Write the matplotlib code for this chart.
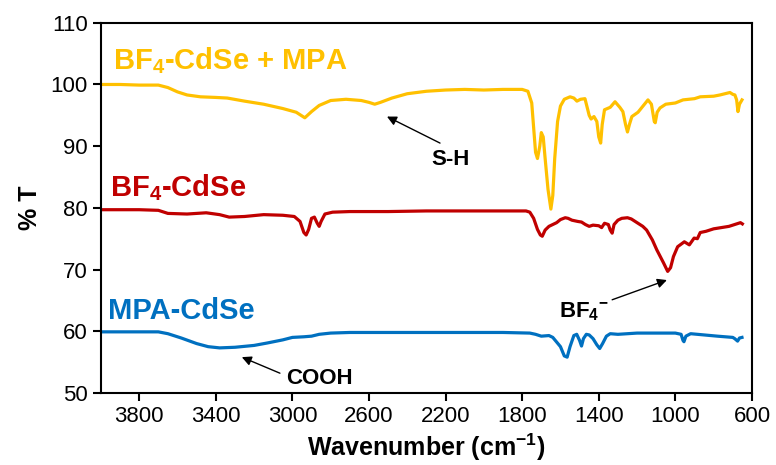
import matplotlib.pyplot as plt

plt.rcParams['font.family'] = ['Liberation Sans', 'DejaVu Sans']
plt.rcParams['mathtext.fontset'] = 'custom'
plt.rcParams['mathtext.rm'] = 'Liberation Sans'
plt.rcParams['mathtext.bf'] = 'Liberation Sans:bold'
plt.rcParams['mathtext.default'] = 'bf'

# BF4-CdSe + MPA (yellow)
wn_mix = [4000, 3900, 3800, 3700, 3650, 3600, 3550, 3480, 3400, 3340, 3250, 3150,
          3050, 2980, 2935, 2900, 2860, 2800, 2720, 2640, 2600, 2570, 2540, 2480,
          2400, 2300, 2200, 2100, 2000, 1900, 1800, 1770, 1750, 1740, 1730, 1720,
          1708, 1700, 1690, 1680, 1665, 1650, 1640, 1630, 1615, 1600, 1580, 1550,
          1530, 1514, 1495, 1472, 1450, 1440, 1425, 1410, 1400, 1390, 1382, 1370,
          1340, 1315, 1290, 1274, 1260, 1250, 1240, 1227, 1195, 1169, 1143, 1125,
          1110, 1105, 1095, 1080, 1050, 1000, 960, 900, 870, 800, 767, 715, 700,
          689, 680, 673, 665, 652]
t_mix = [100.0, 100.0, 99.9, 99.9, 99.5, 98.8, 98.3, 98.0, 97.9, 97.8, 97.3, 96.8,
         96.1, 95.5, 94.6, 95.6, 96.6, 97.4, 97.6, 97.4, 97.1, 96.8, 97.1, 97.8,
         98.5, 98.9, 99.1, 99.2, 99.1, 99.2, 99.2, 98.9, 97.0, 93.0, 89.0, 88.0,
         90.0, 92.2, 91.5, 88.0, 83.0, 79.8, 82.0, 88.0, 94.0, 96.5, 97.6, 98.0,
         97.8, 97.3, 97.6, 97.7, 95.0, 94.4, 94.8, 94.0, 91.5, 90.5, 93.5, 95.9,
         96.3, 97.2, 96.3, 95.6, 93.5, 92.3, 93.5, 94.8, 95.5, 96.5, 97.5, 96.8,
         94.0, 93.8, 95.5, 96.2, 96.8, 97.0, 97.5, 97.7, 98.0, 98.1, 98.3, 98.7, 98.4,
         98.3, 97.5, 95.6, 96.8, 97.5]

# BF4-CdSe (red)
wn_bf4 = [4000, 3800, 3700, 3650, 3550, 3450, 3380, 3330, 3250, 3150, 3050, 2990,
          2960, 2940, 2928, 2915, 2900, 2885, 2870, 2860, 2850, 2830, 2790, 2700,
          2500, 2300, 2100, 1900, 1780, 1760, 1740, 1720, 1705, 1695, 1680, 1660,
          1640, 1620, 1600, 1575, 1560, 1540, 1510, 1490, 1470, 1450, 1430, 1400,
          1385, 1370, 1350, 1340, 1330, 1320, 1300, 1280, 1250, 1230, 1200, 1170,
          1150, 1120, 1097, 1062, 1040, 1025, 1010, 988, 953, 927, 902, 885, 870,
          840, 800, 720, 660, 650]
t_bf4 = [79.7, 79.7, 79.6, 79.1, 79.0, 79.2, 78.9, 78.5, 78.6, 78.9, 78.8, 78.6,
         77.8, 76.0, 75.6, 76.5, 78.3, 78.5, 77.5, 77.0, 77.8, 79.0, 79.3, 79.4,
         79.4, 79.5, 79.5, 79.5, 79.5, 79.3, 78.3, 76.5, 75.6, 75.4, 76.4, 77.0,
         77.3, 77.6, 78.1, 78.4, 78.3, 78.0, 77.8, 77.7, 77.3, 77.0, 77.2, 77.1,
         76.8, 77.5, 77.3, 76.4, 75.9, 77.3, 78.0, 78.3, 78.4, 78.2, 77.6, 77.0,
         76.4, 74.8, 73.2, 71.1, 69.7, 70.3, 72.1, 73.7, 74.5, 74.0, 75.1, 75.0, 76.0,
         76.2, 76.6, 77.0, 77.6, 77.4]

# MPA-CdSe (blue)
wn_mpa = [4000, 3800, 3700, 3650, 3580, 3500, 3440, 3380, 3300, 3200, 3130, 3050,
          3000, 2940, 2900, 2860, 2800, 2700, 2500, 2300, 2100, 1900, 1760, 1730,
          1700, 1660, 1640, 1600, 1580, 1565, 1550, 1530, 1515, 1500, 1490, 1480,
          1465, 1450, 1430, 1410, 1395, 1380, 1360, 1340, 1300, 1200, 1100, 1000,
          970, 960, 955, 945, 920, 850, 780, 700, 690, 675, 665, 652]
t_mpa = [59.9, 59.9, 59.9, 59.6, 58.9, 58.0, 57.5, 57.3, 57.4, 57.7, 58.1, 58.6,
         59.0, 59.1, 59.2, 59.5, 59.7, 59.8, 59.8, 59.8, 59.8, 59.8, 59.7, 59.5,
         59.2, 59.3, 59.0, 57.5, 56.0, 55.8, 57.5, 59.3, 59.5, 58.5, 57.6, 58.8,
         59.5, 59.4, 58.8, 57.8, 57.2, 58.0, 59.2, 59.6, 59.5, 59.7, 59.7, 59.7,
         59.5, 58.5, 58.3, 59.2, 59.6, 59.4, 59.2, 59.0, 58.8, 58.4, 58.9, 59.0]

yellow = '#FFC000'
red = '#C00000'
blue = '#0070C0'

fig = plt.figure(figsize=(7.76, 4.65), dpi=100)
ax = fig.add_axes([0.130, 0.155, 0.839, 0.796])

ax.plot(wn_mix, t_mix, color=yellow, lw=2.3)
ax.plot(wn_bf4, t_bf4, color=red, lw=2.3)
ax.plot(wn_mpa, t_mpa, color=blue, lw=2.3)

ax.set_xlim(4000, 600)
ax.set_ylim(50, 110)
ax.set_xticks([3800, 3400, 3000, 2600, 2200, 1800, 1400, 1000, 600])
ax.set_yticks([50, 60, 70, 80, 90, 100, 110])
ax.tick_params(labelsize=16, width=1.5, length=6, direction='out')
for s in ax.spines.values():
    s.set_linewidth(1.5)

ax.set_xlabel('Wavenumber (cm$^{-1}$)', fontsize=18, fontweight='bold', labelpad=3)
ax.set_ylabel('% T', fontsize=18, fontweight='bold', labelpad=6)

ax.text(3937, 103.8, 'BF$_4$-CdSe + MPA', color=yellow, fontsize=21,
        fontweight='bold', va='center', ha='left')
ax.text(3953, 83.3, 'BF$_4$-CdSe', color=red, fontsize=21,
        fontweight='bold', va='center', ha='left')
ax.text(3963, 63.3, 'MPA-CdSe', color=blue, fontsize=21,
        fontweight='bold', va='center', ha='left')

arrow = dict(arrowstyle='-|>', color='black', lw=1.0, mutation_scale=14, shrinkA=0, shrinkB=0)
ax.annotate('', xy=(2506, 94.8), xytext=(2229, 90.5), arrowprops=arrow)
ax.text(2172, 87.9, 'S-H', fontsize=16, fontweight='bold', ha='center', va='center')
ax.annotate('', xy=(3264, 55.8), xytext=(3065, 53.2), arrowprops=arrow)
ax.text(2861, 52.4, 'COOH', fontsize=16, fontweight='bold', ha='center', va='center')
ax.annotate('', xy=(1044, 68.3), xytext=(1330, 65.1), arrowprops=arrow)
ax.text(1350, 63.2, 'BF$_4$$^{\\mathbf{-}}$', fontsize=16, fontweight='bold',
        ha='right', va='center')

fig.savefig('out.png', dpi=100)
